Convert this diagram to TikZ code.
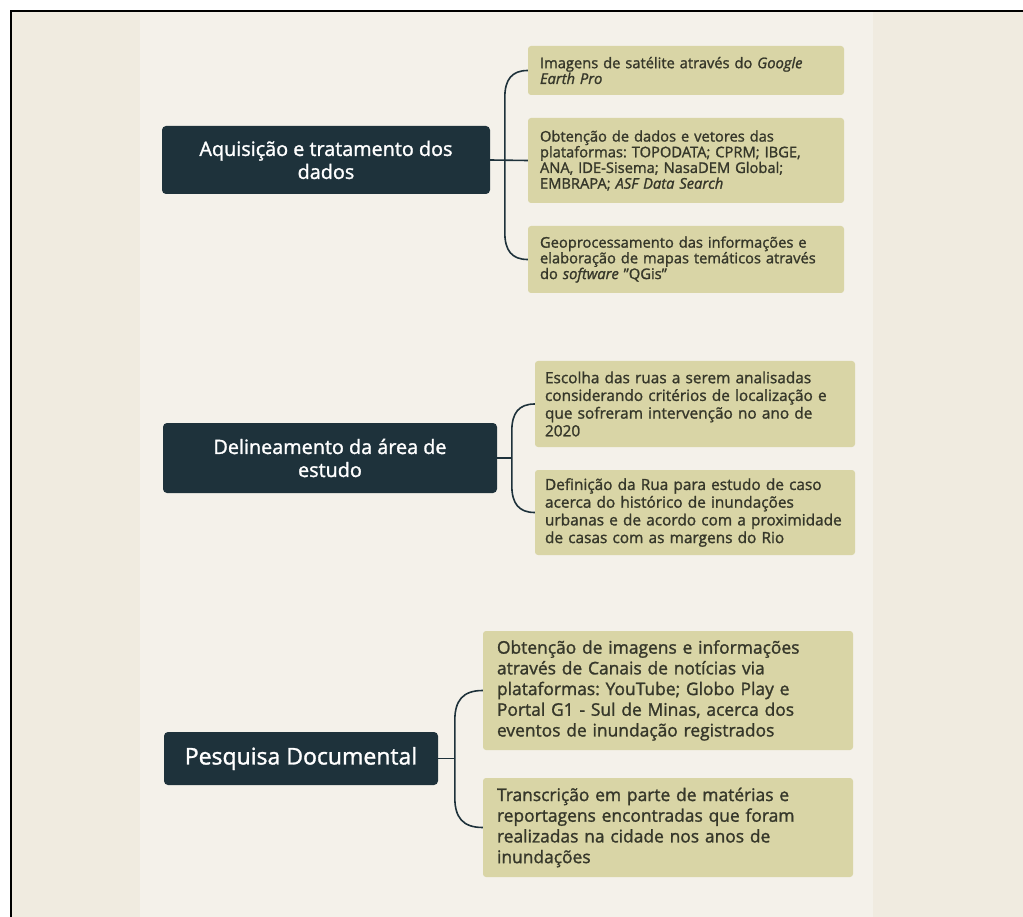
\documentclass[tikz,border=0pt]{standalone}
\usepackage{fontspec}
\setmainfont{Open Sans}[FakeBold=1.4]
\usetikzlibrary{calc}
\frenchspacing
\definecolor{rootc}{HTML}{1E323B}
\definecolor{leafc}{HTML}{D9D5A6}
\definecolor{leaftext}{HTML}{36372A}
\definecolor{bgc}{HTML}{F0EBE0}
\definecolor{paper}{HTML}{F4F1EA}
\tikzset{
  rootbox/.style={fill=rootc, text=white, rounded corners=4pt, inner sep=0pt, align=center},
  leafbox/.style={fill=leafc, text=leaftext, rounded corners=3pt, align=left, inner xsep=12pt, inner ysep=0pt},
  link/.style={draw=rootc, line width=1.6pt},
  fa/.style={font=\frenchspacing\fontsize{14.7}{15.7}\selectfont},
  fb/.style={font=\frenchspacing\fontsize{15.4}{17.7}\selectfont},
  fc/.style={font=\frenchspacing\fontsize{17.4}{20.7}\selectfont}
}
\begin{document}
\begin{tikzpicture}[x=1pt,y=-1pt]
\useasboundingbox (0,0) rectangle (1023,917);
\fill[white] (0,0) rectangle (1023,917);
\fill[bgc] (11,11) rectangle (1023,917);
\fill[paper] (140,11) rectangle (873,917);
\draw[black, line width=2pt] (11,917) -- (11,11) -- (1023,11);

% group 1
\node[rootbox, minimum width=328pt, minimum height=68pt, font=\fontsize{19.8}{23}\selectfont] (r1) at (326,160) {Aquisição e tratamento dos\\dados};
\node[leafbox, fa, text width=292pt, minimum height=49pt] (a1) at (686,70.5) {Imagens de satélite através do \textit{Google}\\\textit{Earth Pro}};
\node[leafbox, fa, text width=292pt, minimum height=85pt] (a2) at (686,160.5) {Obtenção de dados e vetores das\\plataformas: TOPODATA; CPRM; IBGE,\\ANA, IDE-Sisema; NasaDEM Global;\\EMBRAPA; \textit{ASF Data Search}};
\node[leafbox, fa, text width=292pt, minimum height=67pt] (a3) at (686,259.5) {Geoprocessamento das informações e\\elaboração de mapas temáticos através\\do \textit{software} \symbol{34}QGis\symbol{34}};
\draw[link] (r1.east) -- (a2.west);
\draw[link] (a1.west) .. controls +(-16,0) and +(0,-18) .. ($(a1.west)+(-23,27)$) -- ($(a3.west)+(-23,-27)$) .. controls +(0,18) and +(-16,0) .. (a3.west);

% group 2
\node[rootbox, minimum width=334pt, minimum height=70pt, font=\fontsize{19.8}{23}\selectfont] (r2) at (330,458) {Delineamento da área de\\estudo};
\node[leafbox, fb, inner xsep=10pt, text width=300pt, minimum height=86pt] (b1) at (695,404) {Escolha das ruas a serem analisadas\\considerando critérios de localização e\\que sofreram intervenção no ano de\\2020};
\node[leafbox, fb, inner xsep=10pt, text width=300pt, minimum height=85pt] (b2) at (695,512.5) {Definição da Rua para estudo de caso\\acerca do histórico de inundações\\urbanas e de acordo com a proximidade\\de casas com as margens do Rio};
\coordinate (bx2) at ($(b1.west)+(-23,0)$);
\draw[link] (r2.east) -- (r2.east -| bx2);
\draw[link] (b1.west) .. controls +(-16,0) and +(0,-18) .. ($(b1.west)+(-23,27)$) -- ($(b2.west)+(-23,-27)$) .. controls +(0,18) and +(-16,0) .. (b2.west);

% group 3
\node[rootbox, minimum width=274pt, minimum height=53pt, font=\fontsize{23}{26}\selectfont] (r3) at (301,758.5) {Pesquisa Documental};
\node[leafbox, fc, inner xsep=14pt, text width=342pt, minimum height=119pt] (c1) at (668,690.5) {Obtenção de imagens e informações\\através de Canais de notícias via\\plataformas: YouTube; Globo Play e\\Portal G1 - Sul de Minas, acerca dos\\eventos de inundação registrados};
\node[leafbox, fc, inner xsep=14pt, text width=342pt, minimum height=99pt] (c2) at (668,827.5) {Transcrição em parte de matérias e\\reportagens encontradas que foram\\realizadas na cidade nos anos de\\inundações};
\coordinate (bx3) at ($(c1.west)+(-28,0)$);
\draw[link] (r3.east) -- (r3.east -| bx3);
\draw[link] (c1.west) .. controls +(-20,0) and +(0,-20) .. ($(c1.west)+(-28,30)$) -- ($(c2.west)+(-28,-30)$) .. controls +(0,20) and +(-20,0) .. (c2.west);
\end{tikzpicture}
\end{document}
